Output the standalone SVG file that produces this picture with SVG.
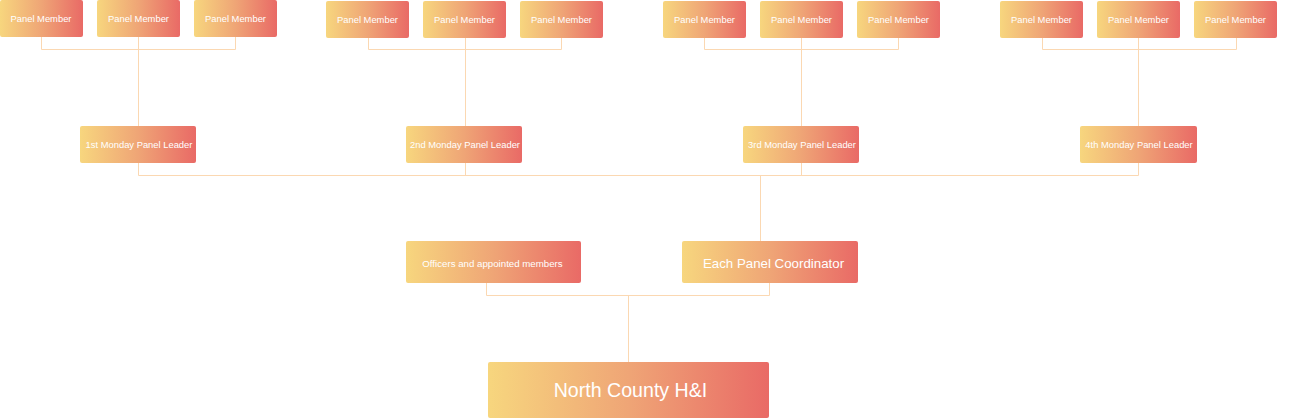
<svg xmlns="http://www.w3.org/2000/svg" width="1293" height="418" viewBox="0 0 1293 418">
<defs>
<linearGradient id="g" x1="0" y1="0" x2="1" y2="0">
<stop offset="0" stop-color="#F7D67E"/>
<stop offset="0.5" stop-color="#EFA576"/>
<stop offset="1" stop-color="#E96A66"/>
</linearGradient>
</defs>
<style>
rect{fill:url(#g);}
text{font-family:"Liberation Sans",Arial,sans-serif;fill:#fff;text-anchor:middle;}
.m{font-size:9.4px;}
.l{font-size:9.4px;}
.o{font-size:9.7px;}
.c{font-size:13.3px;}
.n{font-size:19.6px;}
#connectors path{fill:none;stroke:#FBD8B2;stroke-width:1;}
</style>
<g id="connectors">
<path d="M41.5 37V49.5H235.5V37M138.5 37V126"/>
<path d="M368.5 38V49.5H561.5V38M465.5 38V126"/>
<path d="M704.5 37V49.5H898.5V37M801.5 37V126"/>
<path d="M1042.5 37V49.5H1236.5V37M1138.5 37V126"/>
<path d="M138.5 163V175.5H1138.5V163M465.5 163V175.5M801.5 163V175.5M760.5 175.5V241"/>
<path d="M486.5 283V295.5H769.5V283M628.5 295.5V362"/>
</g>
<g id="m1a"><rect x="0" y="0" width="83" height="37" rx="2"/><text class="m" x="41" y="21.5">Panel Member</text></g>
<g id="m1b"><rect x="97" y="0" width="83" height="37" rx="2"/><text class="m" x="138.5" y="21.5">Panel Member</text></g>
<g id="m1c"><rect x="194" y="0" width="83" height="37" rx="2"/><text class="m" x="235.5" y="21.5">Panel Member</text></g>
<g id="m2a"><rect x="326" y="1" width="83" height="37" rx="2"/><text class="m" x="367.5" y="22.5">Panel Member</text></g>
<g id="m2b"><rect x="423" y="1" width="83" height="37" rx="2"/><text class="m" x="464.5" y="22.5">Panel Member</text></g>
<g id="m2c"><rect x="520" y="1" width="83" height="37" rx="2"/><text class="m" x="561.5" y="22.5">Panel Member</text></g>
<g id="m3a"><rect x="663" y="1" width="83" height="37" rx="2"/><text class="m" x="704.5" y="22.5">Panel Member</text></g>
<g id="m3b"><rect x="760" y="1" width="83" height="37" rx="2"/><text class="m" x="801.5" y="22.5">Panel Member</text></g>
<g id="m3c"><rect x="857" y="1" width="83" height="37" rx="2"/><text class="m" x="898.5" y="22.5">Panel Member</text></g>
<g id="m4a"><rect x="1000" y="1" width="83" height="37" rx="2"/><text class="m" x="1041.5" y="22.5">Panel Member</text></g>
<g id="m4b"><rect x="1097" y="1" width="83" height="37" rx="2"/><text class="m" x="1138.5" y="22.5">Panel Member</text></g>
<g id="m4c"><rect x="1194" y="1" width="83" height="37" rx="2"/><text class="m" x="1235.5" y="22.5">Panel Member</text></g>
<g id="l1"><rect x="80" y="126" width="116" height="37" rx="2"/><text class="l" x="139" y="148">1st Monday Panel Leader</text></g>
<g id="l2"><rect x="406" y="126" width="116" height="37" rx="2"/><text class="l" x="465" y="148">2nd Monday Panel Leader</text></g>
<g id="l3"><rect x="743" y="126" width="116" height="37" rx="2"/><text class="l" x="802" y="148">3rd Monday Panel Leader</text></g>
<g id="l4"><rect x="1080" y="126" width="117" height="37" rx="2"/><text class="l" x="1139" y="148">4th Monday Panel Leader</text></g>
<g id="officers"><rect x="406" y="241" width="175" height="42" rx="2"/><text class="o" x="492.5" y="266.5">Officers and appointed members</text></g>
<g id="coordinator"><rect x="682" y="241" width="176" height="42" rx="2"/><text class="c" x="773.5" y="267.5">Each Panel Coordinator</text></g>
<g id="root"><rect x="488" y="362" width="281" height="56" rx="2"/><text class="n" x="630.5" y="396.5">North County H&amp;I</text></g>
</svg>
